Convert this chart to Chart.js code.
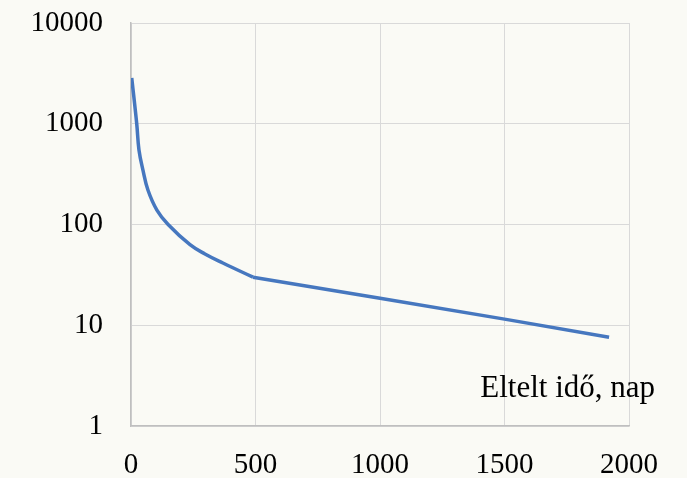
<!DOCTYPE html>
<html>
<head>
<meta charset="utf-8">
<script src="https://cdn.jsdelivr.net/npm/chart.js@4"></script>
<style>
  html, body { margin: 0; padding: 0; background: #fafaf5; }
  #wrap { width: 687px; height: 478px; }
</style>
</head>
<body>
<div id="wrap"><canvas id="decayChart"></canvas></div>
<script>
/* Log-scale decay curve */

const LINE_BLUE = '#4677bf';
const GRID = '#d9d9d9';
const AXIS = '#bfbfbf';
const FONT = "'Liberation Serif', 'DejaVu Serif', serif";

// fast early drop (smoothed), then a near-straight tail on the log axis
const daysEarly = [3, 23, 32, 48, 68, 104, 149, 237, 297, 369, 490];
const valuesEarly = [2850, 1000, 550, 347, 220, 139, 100, 63, 51, 41.5, 30];
const daysLate = [490, 1000, 1500, 1920];
const valuesLate = [30, 18.5, 11.5, 7.6];
const xTicks = [0, 500, 1000, 1500, 2000];
const yTicks = [1, 10, 100, 1000, 10000];
const axisTitle = 'Eltelt idő, nap';

const toPoints = (xs, ys) => xs.map((d, i) => ({ x: d, y: ys[i] }));

const titlePlugin = {
  id: 'innerTitle',
  afterDraw(chart) {
    const { ctx, chartArea } = chart;
    ctx.save();
    ctx.font = '31px ' + FONT;
    ctx.fillStyle = '#000';
    ctx.textAlign = 'right';
    ctx.textBaseline = 'alphabetic';
    ctx.fillText(axisTitle, chartArea.right + 26, chartArea.bottom - 29);
    ctx.restore();
  },
};

const lineStyle = {
  borderColor: LINE_BLUE,
  borderWidth: 3.5,
  pointRadius: 0,
  fill: false,
};

const ctx = document.getElementById('decayChart').getContext('2d');
new Chart(ctx, {
  type: 'line',
  data: {
    datasets: [
      { ...lineStyle, data: toPoints(daysEarly, valuesEarly), tension: 0.4 },
      { ...lineStyle, data: toPoints(daysLate, valuesLate), tension: 0 },
    ],
  },
  options: {
    responsive: true,
    maintainAspectRatio: false,
    animation: false,
    layout: { padding: { left: 0, right: 58, top: 23, bottom: 0 } },
    plugins: { legend: { display: false }, tooltip: { enabled: false } },
    scales: {
      x: {
        type: 'linear',
        min: 0,
        max: 2000,
        afterFit: s => { s.height = 52; s.paddingLeft = 0; s.paddingRight = 0; },
        afterBuildTicks: s => { s.ticks = xTicks.map(v => ({ value: v })); },
        grid: { color: GRID, drawTicks: false },
        border: { color: AXIS, width: 1.5 },
        ticks: { color: '#000', padding: 22, font: { family: FONT, size: 29 }, maxRotation: 0, callback: v => String(v) },
      },
      y: {
        type: 'logarithmic',
        min: 1,
        max: 10000,
        afterFit: s => { s.width = 131; s.paddingTop = 0; s.paddingBottom = 0; },
        afterBuildTicks: s => { s.ticks = yTicks.map(v => ({ value: v })); },
        grid: { color: GRID, drawTicks: false },
        border: { color: AXIS, width: 1.5 },
        ticks: { color: '#000', padding: 28, font: { family: FONT, size: 29 }, callback: v => String(v) },
      },
    },
  },
  plugins: [titlePlugin],
});
</script>
</body>
</html>
